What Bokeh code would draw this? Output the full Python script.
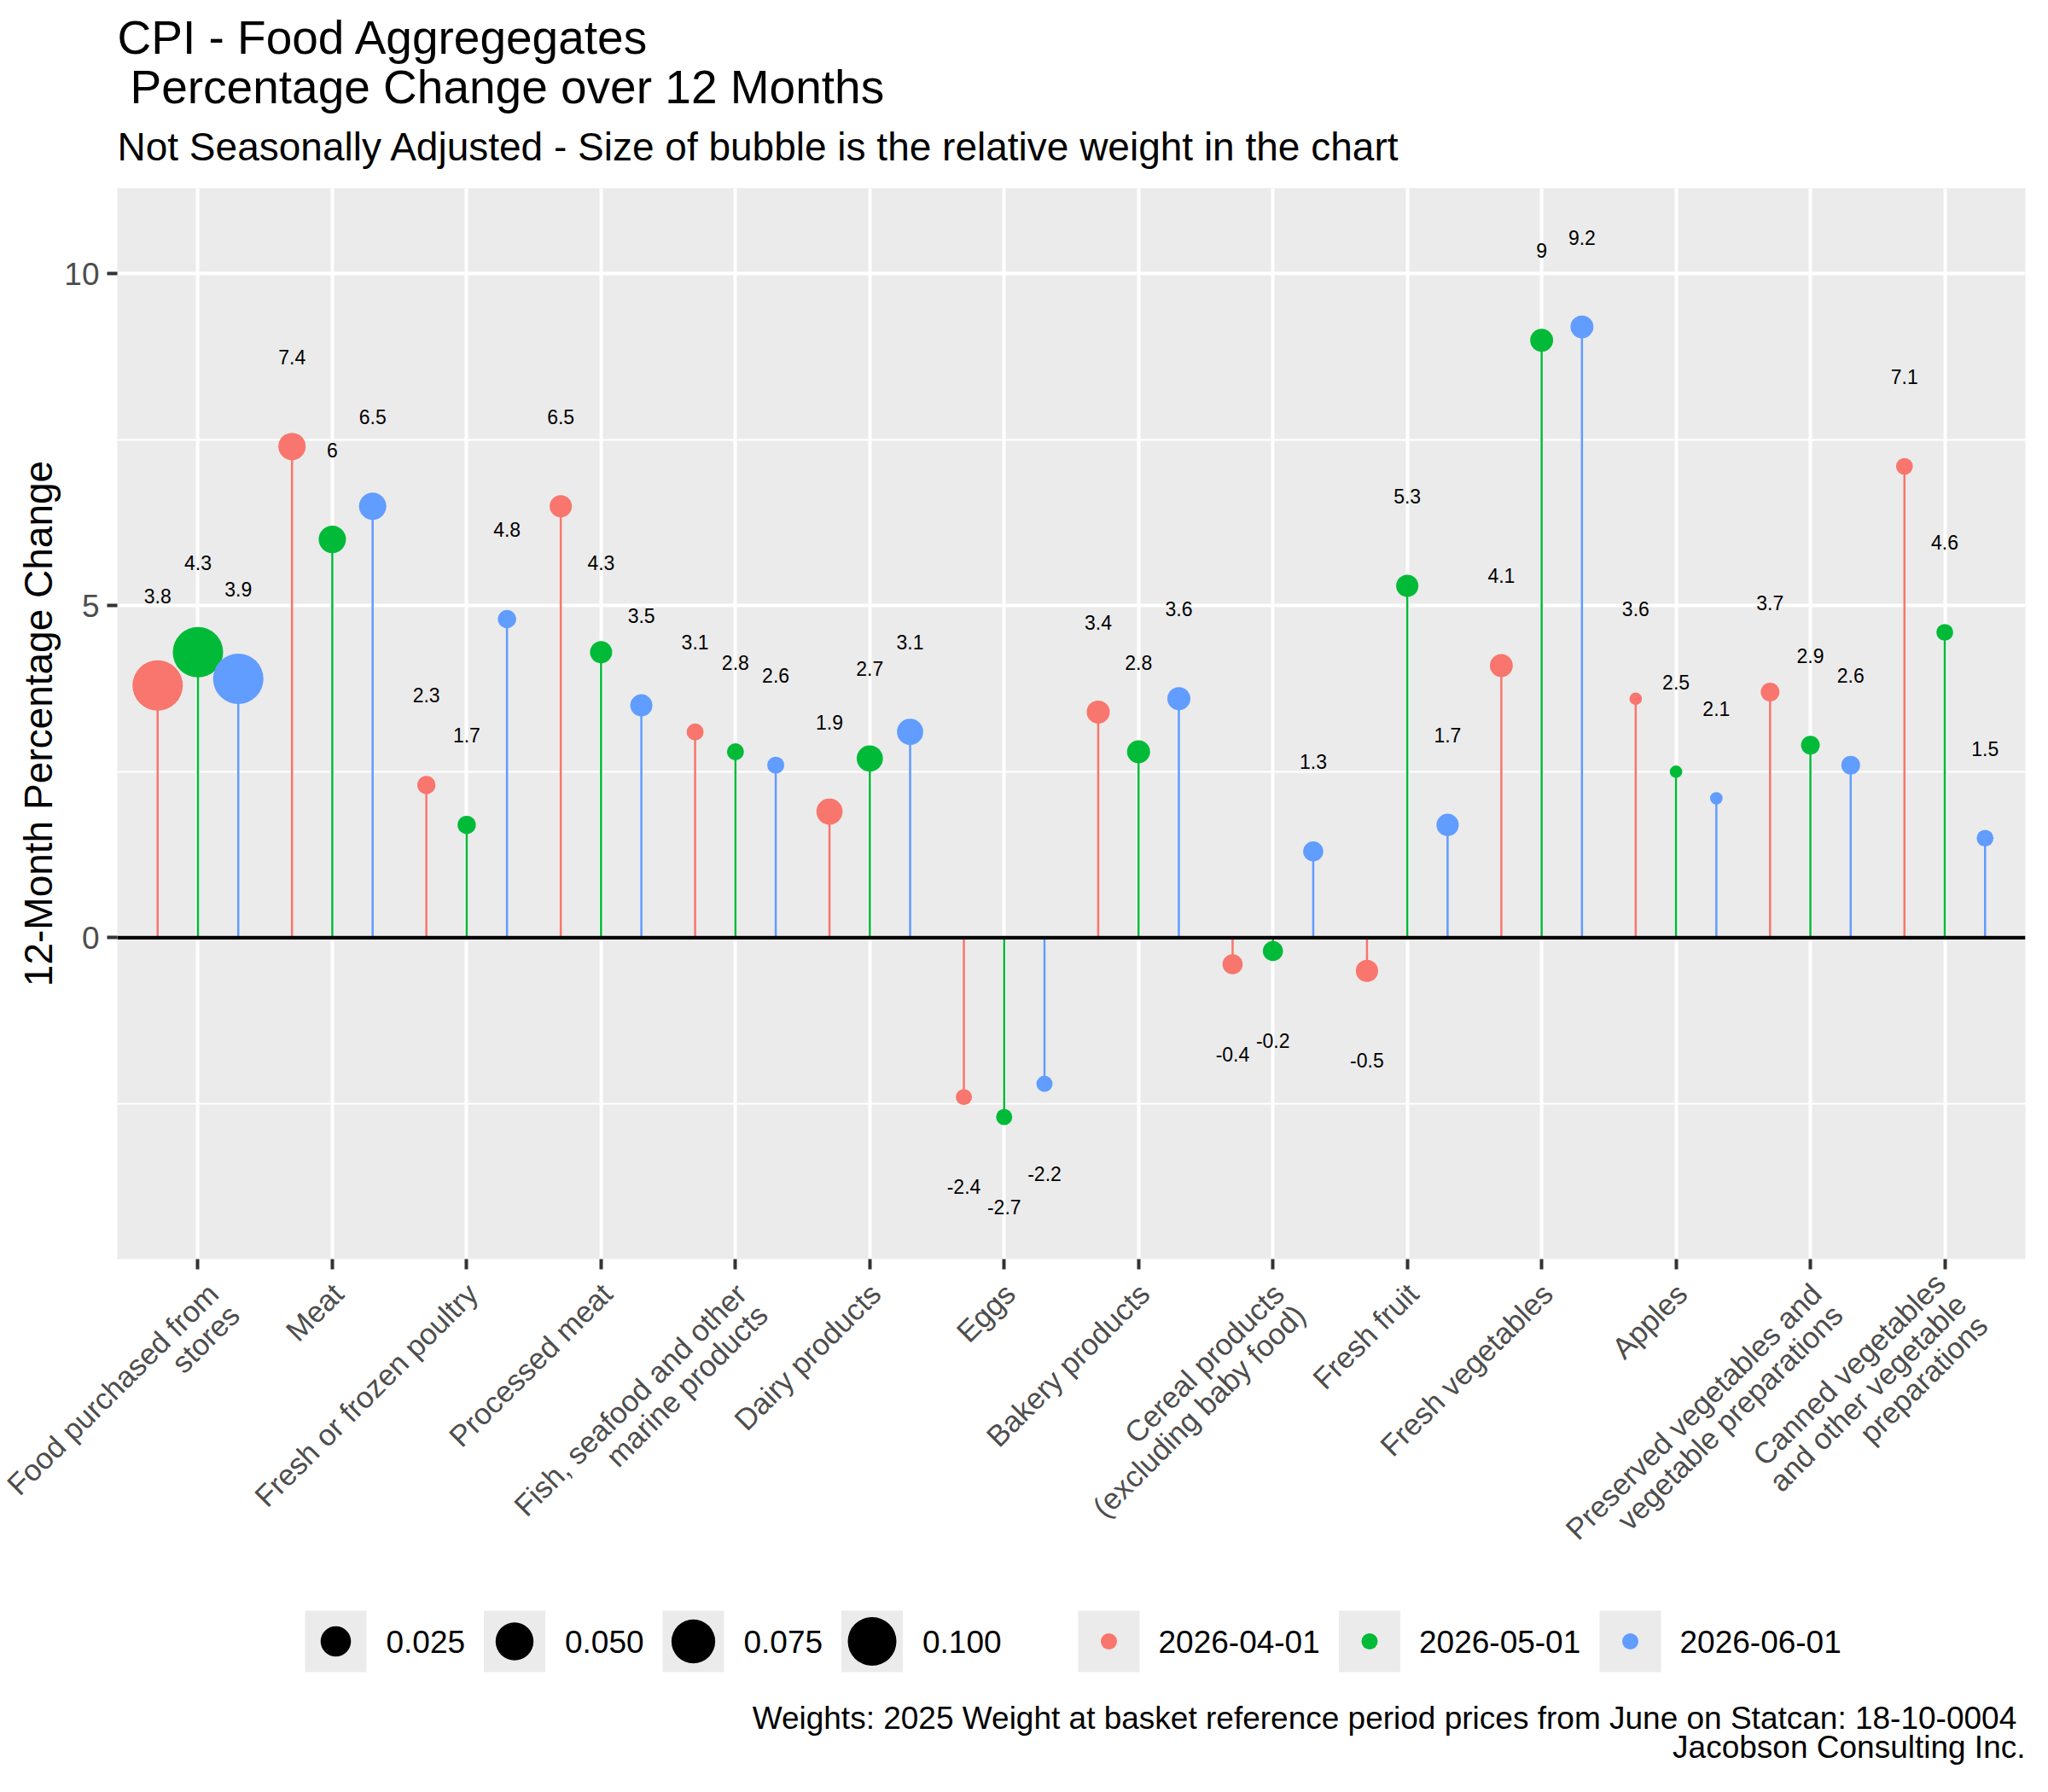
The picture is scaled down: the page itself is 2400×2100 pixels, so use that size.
import math
from bokeh.plotting import figure
from bokeh.models import Range1d, FixedTicker, Span, ColumnDataSource, LinearAxis
from bokeh.layouts import column
from bokeh.embed import file_html
from bokeh.resources import INLINE
from bokeh.core.properties import value

# ---------------- data ----------------
categories = [
    "Food purchased from\nstores",
    "Meat",
    "Fresh or frozen poultry",
    "Processed meat",
    "Fish, seafood and other\nmarine products",
    "Dairy products",
    "Eggs",
    "Bakery products",
    "Cereal products\n(excluding baby food)",
    "Fresh fruit",
    "Fresh vegetables",
    "Apples",
    "Preserved vegetables and\nvegetable preparations",
    "Canned vegetables\nand other vegetable\npreparations",
]
dates = ["2026-04-01", "2026-05-01", "2026-06-01"]
pct_apr = [3.8, 7.4, 2.3, 6.5, 3.1, 1.9, -2.4, 3.4, -0.4, -0.5, 4.1, 3.6, 3.7, 7.1]
pct_may = [4.3, 6.0, 1.7, 4.3, 2.8, 2.7, -2.7, 2.8, -0.2, 5.3, 9.0, 2.5, 2.9, 4.6]
pct_jun = [3.9, 6.5, 4.8, 3.5, 2.6, 3.1, -2.2, 3.6, 1.3, 1.7, 9.2, 2.1, 2.6, 1.5]
weights = [0.1096, 0.0174, 0.0033, 0.0079, 0.0023, 0.0150, 0.0018,
           0.0092, 0.0052, 0.0080, 0.0090, 0.0008, 0.0037, 0.0022]
size_breaks = [0.025, 0.050, 0.075, 0.100]
size_break_labels = ["0.025", "0.050", "0.075", "0.100"]
y_ticks = [0, 5, 10]

title_lines = ["CPI - Food Aggregegates", " Percentage Change over 12 Months"]
subtitle = "Not Seasonally Adjusted - Size of bubble is the relative weight in the chart"
caption_lines = ["Weights: 2025 Weight at basket reference period prices  from June on Statcan: 18-10-0004",
                 "Jacobson Consulting Inc."]
y_label = "12-Month Percentage Change"

# ---------------- styles ----------------
FONT = "Liberation Sans"
COLORS = ["#F8766D", "#00BA38", "#619CFF"]
PANEL = "#EBEBEB"
W = 2384
LEFT, RIGHT = 137, 11          # plot frame borders (px)
D_MIN, D_MAX = 14.7, 59.0
wmin, wmax = min(weights), max(weights)


def diam(w):
    t = max(w - wmin, 0.0) / (wmax - wmin)
    return D_MIN + (D_MAX - D_MIN) * math.sqrt(t)


def mid(baseline, fs):
    # vertical centre of a text line whose alphabetic baseline is given
    return baseline - 0.3465 * fs


def canvas(h):
    f = figure(width=W, height=h, x_range=Range1d(LEFT, W - RIGHT), y_range=Range1d(h, 0),
               output_backend="svg", toolbar_location=None,
               min_border_left=LEFT, min_border_right=RIGHT,
               min_border_top=0, min_border_bottom=0,
               x_axis_location=None, y_axis_location=None)
    f.grid.visible = False
    f.outline_line_color = None
    f.background_fill_color = "white"
    f.border_fill_color = "white"
    return f


# ---------------- header ----------------
H_HEAD = 220
head = canvas(H_HEAD)
head.text(x=[LEFT, LEFT + 15], y=[mid(62.5, 55), mid(121, 55)], text=title_lines,
          text_font=value(FONT), text_font_size="55px", text_color="black",
          text_align="left", text_baseline="middle")
head.text(x=[LEFT], y=[mid(187.5, 46)], text=[subtitle], text_font=value(FONT),
          text_font_size="46px", text_color="black", text_align="left",
          text_baseline="middle")

# ---------------- main plot ----------------
FRAME_H = 1255
BOTTOM = 405
H_MAIN = FRAME_H + BOTTOM
n = len(categories)
X0, X1 = 0.4, n + 0.6
Y0, Y1 = -4.84, 11.29
p = figure(width=W, height=H_MAIN, x_range=Range1d(X0, X1),
           y_range=Range1d(Y0, Y1), output_backend="svg",
           toolbar_location=None, min_border_left=LEFT, min_border_right=RIGHT,
           min_border_top=0, min_border_bottom=BOTTOM)
p.background_fill_color = PANEL
p.border_fill_color = "white"
p.outline_line_color = None

p.xaxis.ticker = FixedTicker(ticks=list(range(1, n + 1)), minor_ticks=[])
p.xaxis.major_label_overrides = {i + 1: "" for i in range(n)}
step = y_ticks[1] - y_ticks[0]
minor = [t - step / 2 for t in y_ticks] + [y_ticks[-1] + step / 2]
p.yaxis.ticker = FixedTicker(ticks=y_ticks, minor_ticks=minor)

for ax in (p.xaxis, p.yaxis):
    ax.axis_line_color = None
    ax.major_tick_line_color = "#333333"
    ax.major_tick_line_width = 4
    ax.major_tick_out = 12
    ax.major_tick_in = 0
    ax.minor_tick_line_color = None
    ax.major_label_text_font = FONT
    ax.major_label_text_font_size = "37px"
    ax.major_label_text_color = "#4D4D4D"
p.xaxis.major_label_text_font_size = "1px"
p.xaxis.major_label_standoff = 0
p.yaxis.major_label_standoff = 9
p.yaxis.axis_label = y_label
p.yaxis.axis_label_text_font = FONT
p.yaxis.axis_label_text_font_size = "46px"
p.yaxis.axis_label_text_font_style = "normal"
p.yaxis.axis_label_text_color = "black"
p.yaxis.axis_label_standoff = 1

p.xgrid.grid_line_color = "white"
p.xgrid.grid_line_width = 4
p.ygrid.grid_line_color = "white"
p.ygrid.grid_line_width = 4
p.ygrid.minor_grid_line_color = "white"
p.ygrid.minor_grid_line_width = 2

offsets = [-0.3, 0.0, 0.3]
series = [pct_apr, pct_may, pct_jun]
for k, vals in enumerate(series):
    xs = [i + 1 + offsets[k] for i in range(n)]
    src = ColumnDataSource(dict(
        x=xs, y=vals, y0=[0] * n,
        ylab=[v + (1.35 if v >= 0 else -1.35) for v in vals],
        lab=[("%g" % v) for v in vals],
        size=[diam(w) for w in weights],
    ))
    p.segment(x0="x", y0="y0", x1="x", y1="y", source=src,
              line_color=COLORS[k], line_width=2.5)
    p.scatter(x="x", y="y", size="size", source=src, fill_color=COLORS[k],
              line_color=None)
    p.text(x="x", y="ylab", text="lab", source=src, text_font=value(FONT),
           text_font_size="23px", text_color="black", text_align="center",
           text_baseline="middle")

p.add_layout(Span(location=0, dimension="width", line_color="black", line_width=4.3))

# category labels: second axis on a shifted range so the rotated text block
# ends at the upper right of each tick (ggplot angle=45, hjust=1, vjust=1)
px_per_unit = (W - LEFT - RIGHT) / (X1 - X0)
LAB_DX = 19           # px shift of the label anchor to the right of the tick
LAB_STANDOFF = 35
padded = [c if c.count("\n") >= 1 else c + "\n" for c in categories]
shift = LAB_DX / px_per_unit
p.extra_x_ranges = {"lab": Range1d(X0 - shift, X1 - shift)}
lab_axis = LinearAxis(x_range_name="lab",
                      ticker=FixedTicker(ticks=list(range(1, n + 1)), minor_ticks=[]))
lab_axis.major_label_overrides = {i + 1: t for i, t in enumerate(padded)}
lab_axis.major_label_orientation = math.pi / 4
lab_axis.axis_line_color = None
lab_axis.major_tick_line_color = None
lab_axis.minor_tick_line_color = None
lab_axis.major_tick_out = 0
lab_axis.major_tick_in = 0
lab_axis.major_label_standoff = LAB_STANDOFF
lab_axis.major_label_text_font = FONT
lab_axis.major_label_text_font_size = "35px"
lab_axis.major_label_text_color = "#4D4D4D"
lab_axis.major_label_text_line_height = 0.9
p.add_layout(lab_axis, "below")

# ---------------- footer (legend + caption) ----------------
FOOT_TOP = 220 + H_MAIN
H_FOOT = 2084 - FOOT_TOP
foot = canvas(H_FOOT)
KEY = 72
ky = 1923 - FOOT_TOP
sx0 = [357 + i * 209.5 for i in range(len(size_breaks))]
foot.rect(x=[x + KEY / 2 for x in sx0], y=[ky] * len(sx0), width=KEY, height=KEY,
          fill_color=PANEL, line_color=None)
foot.scatter(x=[x + KEY / 2 for x in sx0], y=[ky] * len(sx0),
             size=[diam(b) for b in size_breaks], fill_color="black", line_color=None)
foot.text(x=[x + KEY + 23 for x in sx0], y=[ky] * len(sx0), text=size_break_labels,
          text_font=value(FONT), text_font_size="37px", text_color="black",
          text_align="left", text_baseline="middle")

cx0 = [1263 + i * 305.5 for i in range(len(dates))]
foot.rect(x=[x + KEY / 2 for x in cx0], y=[ky] * len(cx0), width=KEY, height=KEY,
          fill_color=PANEL, line_color=None)
foot.scatter(x=[x + KEY / 2 for x in cx0], y=[ky] * len(cx0), size=19,
             fill_color=COLORS, line_color=None)
foot.text(x=[x + KEY + 22 for x in cx0], y=[ky] * len(cx0), text=dates,
          text_font=value(FONT), text_font_size="37px", text_color="black",
          text_align="left", text_baseline="middle")

foot.text(x=[W - RIGHT, W - RIGHT],
          y=[mid(2026 - FOOT_TOP, 37), mid(2060 - FOOT_TOP, 37)],
          text=caption_lines, text_font=value(FONT), text_font_size="37px",
          text_color="black", text_align="right", text_baseline="middle")

layout = column(head, p, foot, spacing=0)
open("out.html", "w").write(file_html(layout, INLINE))
